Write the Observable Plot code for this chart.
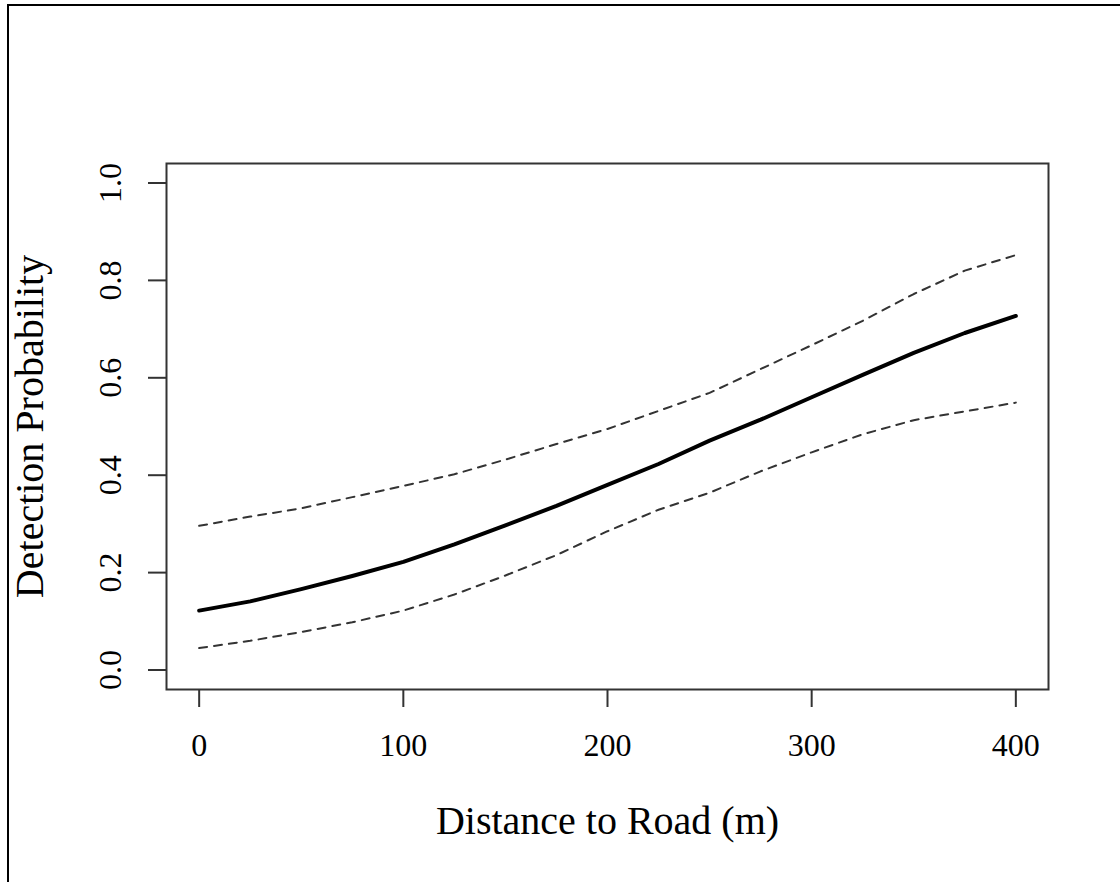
<!DOCTYPE html>
<html>
<head>
<meta charset="utf-8">
<script src="https://cdn.jsdelivr.net/npm/d3@7"></script>
<script src="https://cdn.jsdelivr.net/npm/@observablehq/plot@0.6"></script>
<style>
  html, body { margin: 0; padding: 0; background: #fff; }
  #wrap { position: relative; width: 1120px; height: 882px; overflow: hidden; }
  #wrap svg { position: absolute; left: 0; top: 0; }
  #border { position: absolute; left: 7px; top: 4px; width: 1200px; height: 1000px;
            border-left: 2.5px solid #000; border-top: 2.5px solid #000; pointer-events: none; }
</style>
</head>
<body>
<div id="wrap"><div id="border"></div></div>
<script>
// Data
const distance = [0, 25, 50, 75, 100, 125, 150, 175, 200, 225, 250, 275, 300, 325, 350, 375, 400];
const fitted   = [0.122, 0.141, 0.166, 0.193, 0.222, 0.258, 0.297, 0.337, 0.380, 0.423, 0.471, 0.514, 0.560, 0.606, 0.651, 0.692, 0.727];
const upper    = [0.296, 0.315, 0.332, 0.355, 0.378, 0.402, 0.432, 0.464, 0.495, 0.532, 0.569, 0.618, 0.667, 0.717, 0.772, 0.820, 0.852];
const lower    = [0.045, 0.060, 0.078, 0.098, 0.122, 0.155, 0.194, 0.236, 0.285, 0.329, 0.364, 0.408, 0.447, 0.484, 0.513, 0.531, 0.549];

const xTicks = [0, 100, 200, 300, 400];
const xTickLabels = ["0", "100", "200", "300", "400"];
const yTicks = [0, 0.2, 0.4, 0.6, 0.8, 1.0];
const yTickLabels = ["0.0", "0.2", "0.4", "0.6", "0.8", "1.0"];
const xTitle = "Distance to Road (m)";
const yTitle = "Detection Probability";

const rows = distance.map((d, i) => ({d, fit: fitted[i], up: upper[i], lo: lower[i]}));

const chart = Plot.plot({
  width: 1120,
  height: 882,
  marginLeft: 166,
  marginRight: 72,
  marginTop: 163,
  marginBottom: 193,
  x: {domain: [-16, 416], label: null},
  y: {domain: [-0.04, 1.04], label: null},
  style: {fontFamily: "'Liberation Serif', 'Times New Roman', serif", fontSize: "32px", color: "#000", background: "#fff", overflow: "visible"},
  marks: [
    Plot.frame({stroke: "#333", strokeWidth: 2}),
    Plot.axisX(xTicks, {tickSize: 18, tickPadding: 26, stroke: "#333", strokeWidth: 2, fontSize: 32,
      tickFormat: (d, i) => xTickLabels[i], label: null}),
    Plot.axisY(yTicks, {tickSize: 18, tickPadding: 38, stroke: "#333", strokeWidth: 2, fontSize: 32,
      tickRotate: -90, textAnchor: "middle", lineAnchor: "middle",
      tickFormat: (d, i) => yTickLabels[i], label: null}),
    Plot.line(rows, {x: "d", y: "up", stroke: "#333", strokeWidth: 2, strokeDasharray: "8 7", curve: "linear"}),
    Plot.line(rows, {x: "d", y: "lo", stroke: "#333", strokeWidth: 2, strokeDasharray: "8 7", curve: "linear"}),
    Plot.line(rows, {x: "d", y: "fit", stroke: "#000", strokeWidth: 4, curve: "linear"}),
    Plot.text([xTitle], {text: d => d, frameAnchor: "bottom", dy: 132, fontSize: 40, textAnchor: "middle", lineAnchor: "middle", fill: "#000"}),
    Plot.text([yTitle], {text: d => d, frameAnchor: "left", dx: -136, rotate: -90, fontSize: 40, textAnchor: "middle", lineAnchor: "middle", fill: "#000"})
  ]
});
document.getElementById("wrap").prepend(chart);
</script>
</body>
</html>
